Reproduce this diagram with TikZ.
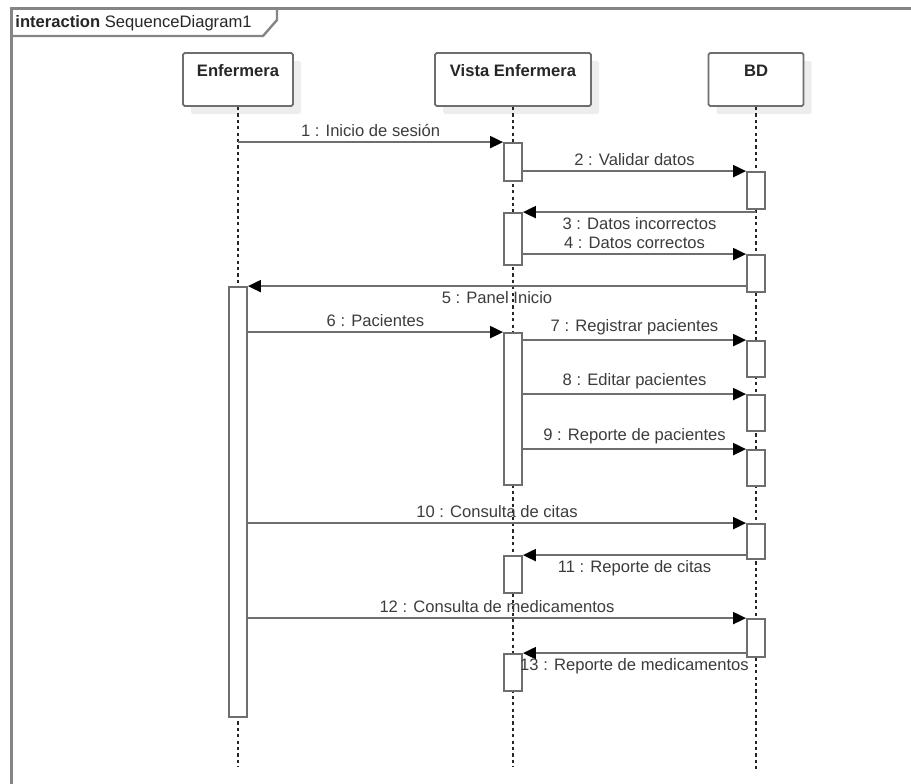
\documentclass[tikz,border=0pt]{standalone}
\usepackage{fontspec}
\setmainfont{Liberation Sans}
\usepackage{xcolor}
\usepackage{tikz}
\usetikzlibrary{arrows.meta,shadows}
\definecolor{linegray}{HTML}{6E6E6E}
\definecolor{framegray}{HTML}{858585}
\definecolor{textgray}{HTML}{3C3C3C}
\tikzset{head/.style={draw=linegray,fill=white,line width=0.9pt,rounded corners=0.8pt,text=black!85,font=\fontsize{8.3}{10}\selectfont\bfseries,general shadow={fill=black!7,shadow xshift=4pt,shadow yshift=-4pt},minimum height=26.5pt,text height=8pt,text depth=11pt,inner ysep=3.75pt}}
\tikzset{act/.style={draw=linegray,fill=white,line width=0.9pt,minimum width=9pt,inner sep=0pt}}
\tikzset{life/.style={black!85,line width=0.55pt,dash pattern=on 1.6pt off 1.6pt}}
\tikzset{msg/.style={->,linegray,line width=1pt}}
\tikzset{lbl/.style={text=textgray,inner sep=2pt}}

\begin{document}
\begin{tikzpicture}[x=0.5pt,y=-0.5pt,>={Triangle[length=6.5pt,width=6pt,color=black]},font=\fontsize{8.3}{10}\selectfont]
    \useasboundingbox (0,0) rectangle (911,783);
    \clip (0,0) rectangle (911,783);
    % frame
    \draw[framegray,line width=1.5pt] (11,8) rectangle (940,810);
    \node[anchor=west,text=black!85,inner sep=0pt] (title)at (15,23) {\textbf{interaction} SequenceDiagram1};
    \draw[framegray,line width=1.2pt] (11,36) -- (263,36) -- (277,20) -- (277,8);

    % lifelines
    \node[head,minimum width=55pt] (enf)at (238,79.5) {Enfermera};
    \node[head,minimum width=78pt] (vista)at (513,79.5) {Vista Enfermera};
    \node[head,minimum width=47.5pt] (bd)at (756,79.5) {BD};
    \coordinate (enfend)at (238,767);
    \coordinate (vistaend)at (513,767);
    \coordinate (bdend)at (756,770);
    \draw[life] (enf) -- (enfend);
    \draw[life] (vista) -- (vistaend);
    \draw[life] (bd) -- (bdend);

    % activations
    \node[act,minimum height=215pt] (ea)at (238,502) {};
    \node[act,minimum height=19pt] (va1)at (513,162) {};
    \node[act,minimum height=26pt] (va2)at (513,239) {};
    \node[act,minimum height=76pt] (va3)at (513,409) {};
    \node[act,minimum height=18.5pt] (va4)at (513,574.5) {};
    \node[act,minimum height=18.5pt] (va5)at (513,672.5) {};
    \node[act,minimum height=18.5pt] (ba1)at (756,190.5) {};
    \node[act,minimum height=18.5pt] (ba2)at (756,273.5) {};
    \node[act,minimum height=18pt] (ba3)at (756,359) {};
    \node[act,minimum height=18pt] (ba4)at (756,413) {};
    \node[act,minimum height=18pt] (ba5)at (756,468) {};
    \node[act,minimum height=17.5pt] (ba6)at (756,541.5) {};
    \node[act,minimum height=19pt] (ba7)at (756,638) {};

    % messages
    \draw[msg] (enf |- va1.north) -- node[lbl,above]{1 : Inicio de sesión} (va1.north west);
    \draw[msg] (va1.east |- ba1.north) -- node[lbl,above]{2 : Validar datos} (ba1.north west);
    \draw[msg] (bd |- va2.north) -- node[lbl,below]{3 : Datos incorrectos} (va2.north east);
    \draw[msg] (va2.east |- ba2.north) -- node[lbl,above]{4 : Datos correctos} (ba2.north west);
    \draw[msg] (ba2.west |- ea.north) -- node[lbl,below]{5 : Panel Inicio} (ea.north east);
    \draw[msg] (ea.east |- va3.north) -- node[lbl,above]{6 : Pacientes} (va3.north west);
    \draw[msg] (va3.east |- ba3.north) -- node[lbl,above]{7 : Registrar pacientes} (ba3.north west);
    \draw[msg] (va3.east |- ba4.north) -- node[lbl,above]{8 : Editar pacientes} (ba4.north west);
    \draw[msg] (va3.east |- ba5.north) -- node[lbl,above]{9 : Reporte de pacientes} (ba5.north west);
    \draw[msg] (ea.east |- ba6.north) -- node[lbl,above]{10 : Consulta de citas} (ba6.north west);
    \draw[msg] (ba6.west |- va4.north) -- node[lbl,below]{11 : Reporte de citas} (va4.north east);
    \draw[msg] (ea.east |- ba7.north) -- node[lbl,above]{12 : Consulta de medicamentos} (ba7.north west);
    \draw[msg] (ba7.west |- va5.north) -- node[lbl,below]{13 : Reporte de medicamentos} (va5.north east);
\end{tikzpicture}
\end{document}
